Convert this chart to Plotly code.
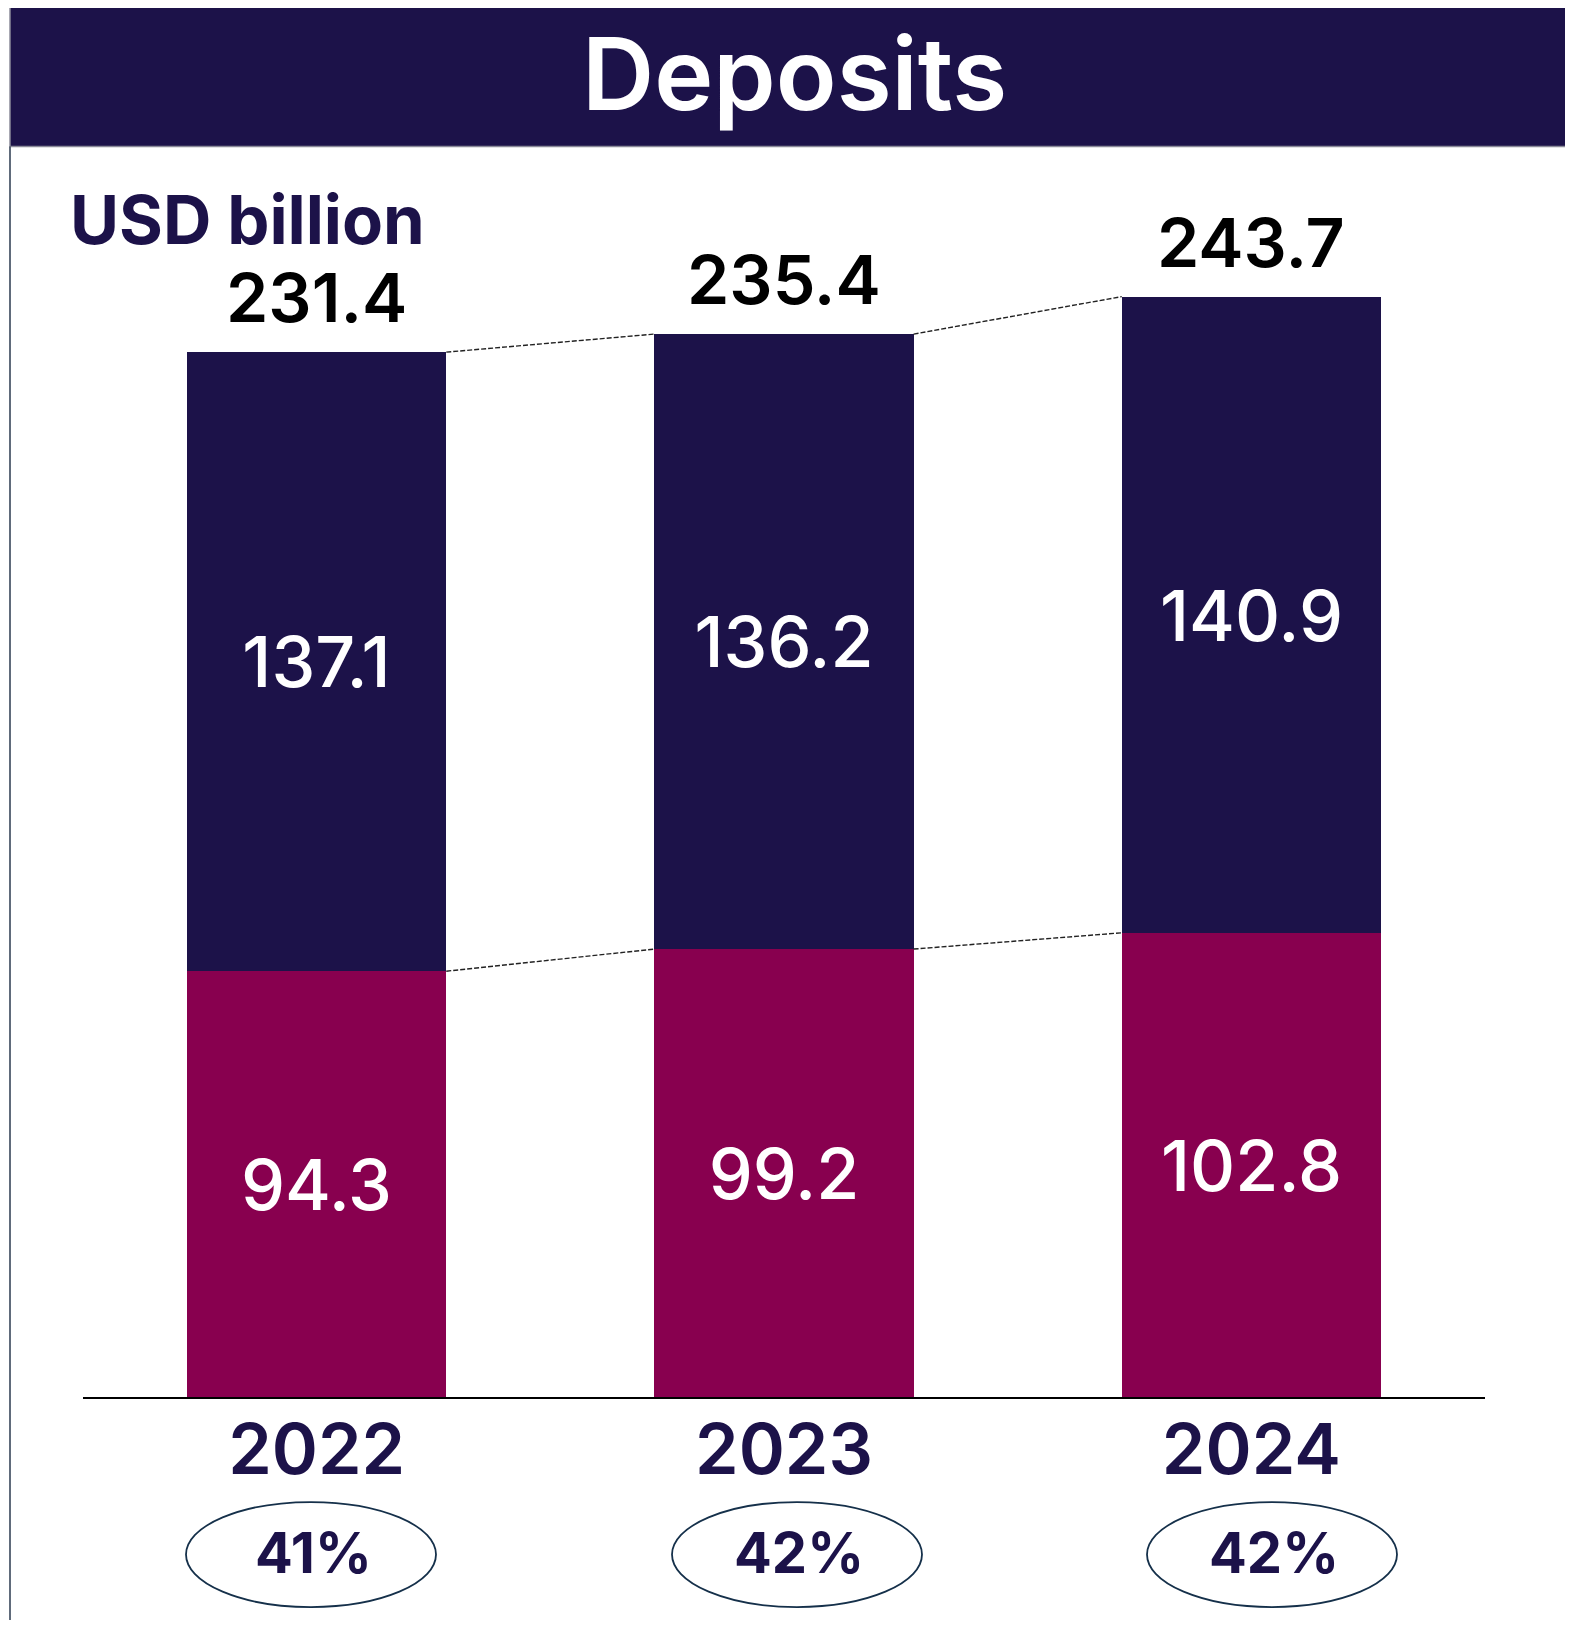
import plotly.graph_objects as go

# ---------------- data ----------------
years = ["2022", "2023", "2024"]
bottom_values = [94.3, 99.2, 102.8]
top_values = [137.1, 136.2, 140.9]
totals = [231.4, 235.4, 243.7]
shares = ["41%", "42%", "42%"]

title_text = "Deposits"
unit_text = "USD billion"

# ---------------- style ----------------
NAVY = "#1C1249"
CRIMSON = "#88004F"
FONT = "Inter"

PAGE_OFF = 8            # default body margin of the html page
W, H = 1565, 1612
# reference page coordinates (px)
REF_L, REF_R = 83, 1485
REF_Y0 = 1397
PX_PER = 4.514
Y_MAX = 260

PX_L, PX_R, PX_Y0 = REF_L - PAGE_OFF, REF_R - PAGE_OFF, REF_Y0 - PAGE_OFF
TOP = PX_Y0 - Y_MAX * PX_PER
BAR_W = 0.5546


def px_x(p):
    return (p - PAGE_OFF - PX_L) / (PX_R - PX_L)


def px_y(p):
    return (PX_Y0 - (p - PAGE_OFF)) / (PX_Y0 - TOP)


xs = list(range(len(years)))

fig = go.Figure()
fig.add_trace(go.Bar(
    x=xs, y=bottom_values, width=BAR_W, marker=dict(color=CRIMSON, line=dict(width=0)),
    text=[f"{v:.1f}" for v in bottom_values], textposition="inside", insidetextanchor="middle",
    textangle=0, textfont=dict(family=FONT, size=70, color="white", weight=500),
    hoverinfo="skip", showlegend=False,
))
fig.add_trace(go.Bar(
    x=xs, y=top_values, width=BAR_W, marker=dict(color=NAVY, line=dict(width=0)),
    text=[f"{v:.1f}" for v in top_values], textposition="inside", insidetextanchor="middle",
    textangle=0, textfont=dict(family=FONT, size=70, color="white", weight=500),
    hoverinfo="skip", showlegend=False,
))

# dashed connectors between bars (segment boundary and totals)
for level in (bottom_values, totals):
    lx, ly = [], []
    for i in range(len(xs) - 1):
        lx += [xs[i] + BAR_W / 2, xs[i + 1] - BAR_W / 2, None]
        ly += [level[i], level[i + 1], None]
    fig.add_trace(go.Scatter(x=lx, y=ly, mode="lines",
                             line=dict(color="#222222", width=1.4, dash="5px,2px"),
                             hoverinfo="skip", showlegend=False))

annotations = []
# totals above bars
for x, t in zip(xs, totals):
    annotations.append(dict(x=x, y=t, xref="x", yref="y", text=f"{t:.1f}", showarrow=False,
                            yanchor="bottom", yshift=12,
                            font=dict(family=FONT, size=68, color="black", weight=600)))

# title bar
shapes = [
    dict(type="rect", xref="paper", yref="paper", x0=px_x(10), x1=px_x(1600),
         y0=px_y(147), y1=px_y(7), fillcolor=NAVY, line=dict(color="#8a8a99", width=1.5), layer="below"),
    dict(type="line", xref="paper", yref="paper", x0=px_x(10), x1=px_x(10),
         y0=px_y(147), y1=px_y(1700), line=dict(color="#2B3A4F", width=1.5)),
]
annotations.append(dict(xref="paper", yref="paper", x=px_x(794), y=px_y(74), text=title_text,
                        showarrow=False, xanchor="center", yanchor="middle",
                        font=dict(family=FONT, size=100, color="white", weight=600)))
annotations.append(dict(xref="paper", yref="paper", x=px_x(68), y=px_y(220), text=unit_text,
                        showarrow=False, xanchor="left", yanchor="middle",
                        font=dict(family=FONT, size=67, color=NAVY, weight=700)))

# ellipses with share labels
ell_cx = [311, 797, 1272]
for cx, s in zip(ell_cx, shares):
    shapes.append(dict(type="circle", xref="paper", yref="paper",
                       x0=px_x(cx - 125), x1=px_x(cx + 125), y0=px_y(1607), y1=px_y(1502),
                       line=dict(color="#15304A", width=1.8), fillcolor="rgba(0,0,0,0)"))
    annotations.append(dict(xref="paper", yref="paper", x=px_x(cx + 2), y=px_y(1553), text=s,
                            showarrow=False, xanchor="center", yanchor="middle",
                            font=dict(family=FONT, size=56, color=NAVY, weight=700)))

fig.update_layout(
    width=W, height=H,
    margin=dict(l=PX_L, r=W - PX_R, t=TOP, b=H - PX_Y0, autoexpand=False),
    barmode="stack", bargap=0,
    paper_bgcolor="white", plot_bgcolor="white",
    annotations=annotations, shapes=shapes,
)
fig.update_xaxes(range=[-0.5, 2.5], tickvals=xs, ticktext=years, showgrid=False, zeroline=False,
                 showline=True, linecolor="black", linewidth=2, ticks="", ticklabelstandoff=-9,
                 tickfont=dict(family=FONT, size=70, color=NAVY, weight=600), fixedrange=True)
fig.update_yaxes(range=[0, Y_MAX], visible=False, showgrid=False, zeroline=False, fixedrange=True)

fig.write_html("out.html")
